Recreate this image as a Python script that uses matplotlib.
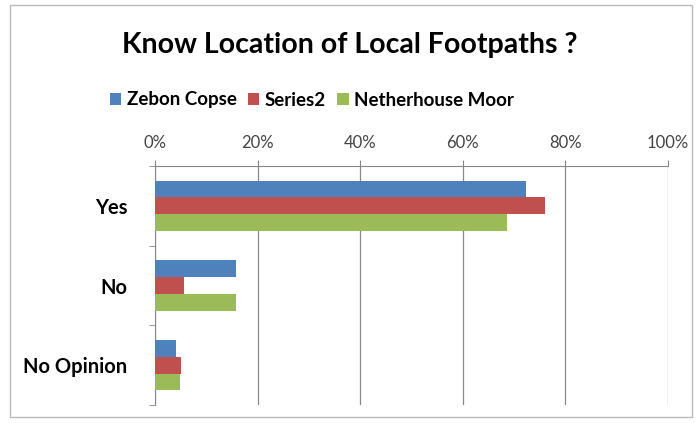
import matplotlib
matplotlib.use('Agg')
from matplotlib import pyplot as plt
from matplotlib.patches import Rectangle
import numpy as np

# Dados
categorias = ['Yes', 'No', 'No Opinion']
series = ['Zebon Copse', 'Series2', 'Netherhouse Moor']
zebon = [72.3, 15.7, 4.0]
series2 = [76.0, 5.6, 5.0]
netherhouse = [68.7, 15.7, 4.9]
cores = ['#4F81BD', '#C0504D', '#9BBB59']
xticks = [0, 20, 40, 60, 80, 100]

plt.rcParams['font.family'] = ['Lato', 'DejaVu Sans']

fig = plt.figure(figsize=(6.96, 4.23), dpi=100)
ax = fig.add_axes([155/696, 1-405/423, 513/696, 239/423])

# Borda externa do gráfico
fig.patches.append(Rectangle((10/696, 6/423), 682/696, 412/423, transform=fig.transFigure,
                             fill=False, edgecolor='#BBBBBB', linewidth=1))

y = np.arange(len(categorias))
h = 0.21
valores = [zebon, series2, netherhouse]
for i, (nome, v, c) in enumerate(zip(series, valores, cores)):
    ax.barh(y + (i - 1) * h, v, height=h, color=c, label=nome, zorder=3)

ax.set_xlim(0, 100)
ax.set_ylim(len(categorias) - 0.5, -0.5)
ax.xaxis.tick_top()
ax.set_xticks(xticks)
ax.set_xticklabels([f'{t}%' for t in xticks], fontsize=12, color='#444444')
ax.tick_params(axis='x', length=4, color='#888888', pad=7)
ax.grid(axis='x', color='#888888', linewidth=0.9, zorder=0)

ax.set_yticks(y)
ax.set_yticklabels(categorias, fontsize=14.5, fontweight='bold')
ax.tick_params(axis='y', length=0, pad=20)
ax.set_yticks([-0.5, 0.5, 1.5, 2.5], minor=True)
ax.tick_params(axis='y', which='minor', length=4, color='#888888')

for s in ['right', 'bottom']:
    ax.spines[s].set_visible(False)
ax.spines['left'].set_color('#888888')
ax.spines['top'].set_color('#888888')

fig.text(350/696, 1-45/423, 'Know Location of Local Footpaths ?', ha='center', va='center',
         fontsize=20.5, fontweight='bold')

leg = fig.legend(loc='center', bbox_to_anchor=(312/696, 1-100/423), ncol=3, frameon=False,
                 prop={'weight': 'bold', 'size': 13.5}, handlelength=0.6, handleheight=0.6,
                 handletextpad=0.3, columnspacing=0.6)

fig.savefig('out.png', dpi=100)
